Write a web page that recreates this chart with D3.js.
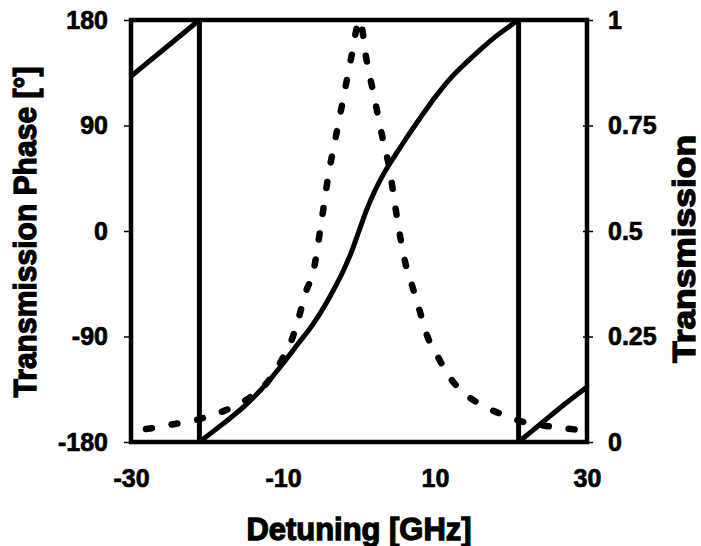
<!DOCTYPE html>
<html><head><meta charset="utf-8">
<script src="https://cdn.jsdelivr.net/npm/d3@7"></script>
<style>
html,body{margin:0;padding:0;background:#fff;}
svg{display:block;}
text{font-family:"Liberation Sans",Arial,sans-serif;font-weight:bold;fill:#000;}
</style></head>
<body>
<svg id="chart" width="701" height="546"></svg>
<script>
// Detuning (GHz) and transmission phase (degrees); repeated x marks a phase wrap
const phaseX = [-30,-27,-24,-21,-21,-18,-15,-12,-10,-8,-6,-5,-4,-3,-2,-1,0,1,2,3,4,5,6,8,10,12,14,16,18,21,21,24,27,30];
const phaseY = [132,148,164,180,-180,-165,-149,-129,-113,-96,-79,-69,-58,-46,-33,-18,0,18,33,46,57,67,77,96,114,130,143,155,166,180,-180,-164,-148,-133];
// Detuning (GHz) and transmission (0..1)
const transX = [-30,-27.5,-24.5,-21.5,-18,-15,-12,-10,-9,-8,-7,-6,-5,-4,-3,-2,-1,0.1,1,2,3,4,5,6,7,8,9,10,12,14,16,19,22,25.5,30];
const transY = [0.028,0.032,0.042,0.052,0.072,0.098,0.143,0.2,0.235,0.29,0.355,0.405,0.515,0.635,0.728,0.82,0.913,1.0,0.905,0.818,0.729,0.648,0.532,0.432,0.37,0.31,0.25,0.215,0.152,0.113,0.089,0.064,0.046,0.036,0.027];
const xTicks = [-30,-10,10,30];
const phaseTicks = [-180,-90,0,90,180];
const transTicks = [0,0.25,0.5,0.75,1];
const xTitle = "Detuning [GHz]";
const leftTitle = "Transmission Phase [°]";
const rightTitle = "Transmission";

const svg = d3.select("#chart");
const L = 131, R = 587, T = 20, B = 442;
const x = d3.scaleLinear().domain([-30,30]).range([L,R]);
const yP = d3.scaleLinear().domain([-180,180]).range([B,T]);
const yT = d3.scaleLinear().domain([0,1]).range([B,T]);
const fmt = d => String(d);

// left axis
const gl = svg.append("g").attr("transform",`translate(${L},0)`)
  .call(d3.axisLeft(yP).tickValues(phaseTicks).tickSize(7).tickPadding(16).tickFormat(fmt));
gl.select(".domain").remove();
gl.selectAll(".tick line").attr("stroke","#000").attr("stroke-width",1.5);
gl.selectAll(".tick text").style("font-size","25px").attr("stroke","#000").attr("stroke-width",0.7);

// right axis
const gr = svg.append("g").attr("transform",`translate(${R},0)`)
  .call(d3.axisRight(yT).tickValues(transTicks).tickSizeInner(6).tickSizeOuter(0).tickPadding(15).tickFormat(fmt));
gr.select(".domain").remove();
gr.selectAll(".tick line").attr("x1",-4).attr("stroke","#000").attr("stroke-width",1.5);
gr.selectAll(".tick text").style("font-size","25px").attr("stroke","#000").attr("stroke-width",0.7);

// bottom axis
const gb = svg.append("g").attr("transform",`translate(0,${B})`)
  .call(d3.axisBottom(x).tickValues(xTicks).tickSize(0).tickPadding(27).tickFormat(fmt));
gb.select(".domain").remove();
gb.selectAll(".tick text").style("font-size","25px").attr("stroke","#000").attr("stroke-width",0.7);

// transmission (dashed)
const tData = transX.map((d,i)=>[d,transY[i]]);
svg.append("path").datum(tData)
  .attr("fill","none").attr("stroke","#000").attr("stroke-width",6.5)
  .attr("stroke-linecap","round").attr("stroke-dasharray","6,20").attr("stroke-dashoffset",11)
  .attr("d", d3.line().x(d=>x(d[0])).y(d=>yT(d[1])).curve(d3.curveMonotoneX));

// phase (solid), split at wraps
const segs = [[]];
const jumps = [];
phaseX.forEach((px,i)=>{
  if (i>0 && px === phaseX[i-1]) { jumps.push([px, phaseY[i-1], phaseY[i]]); segs.push([]); }
  segs[segs.length-1].push([px, phaseY[i]]);
});
const pline = d3.line().x(d=>x(d[0])).y(d=>yP(d[1])).curve(d3.curveMonotoneX);
segs.forEach(s=>{
  svg.append("path").datum(s).attr("fill","none").attr("stroke","#000")
    .attr("stroke-width",5).attr("stroke-linejoin","round").attr("d",pline);
});
jumps.forEach(j=>{
  svg.append("line").attr("x1",x(j[0])).attr("x2",x(j[0])).attr("y1",yP(j[1])).attr("y2",yP(j[2]))
    .attr("stroke","#000").attr("stroke-width",5);
});

// frame
svg.append("rect").attr("x",L).attr("y",T).attr("width",R-L).attr("height",B-T)
  .attr("fill","none").attr("stroke","#000").attr("stroke-width",4.5);

// titles
svg.append("text").attr("x",359).attr("y",540).attr("text-anchor","middle")
  .style("font-size","32px").attr("stroke","#000").attr("stroke-width",1.3)
  .attr("textLength",225).attr("lengthAdjust","spacingAndGlyphs").text(xTitle);
svg.append("text").attr("transform","translate(36,232) rotate(-90)").attr("text-anchor","middle")
  .style("font-size","32px").attr("stroke","#000").attr("stroke-width",1.3)
  .attr("textLength",331).attr("lengthAdjust","spacingAndGlyphs").text(leftTitle);
svg.append("text").attr("transform","translate(695,249) rotate(-90)").attr("text-anchor","middle")
  .style("font-size","31px").attr("stroke","#000").attr("stroke-width",1.3)
  .attr("textLength",228).attr("lengthAdjust","spacingAndGlyphs").text(rightTitle);
</script>
</body></html>
